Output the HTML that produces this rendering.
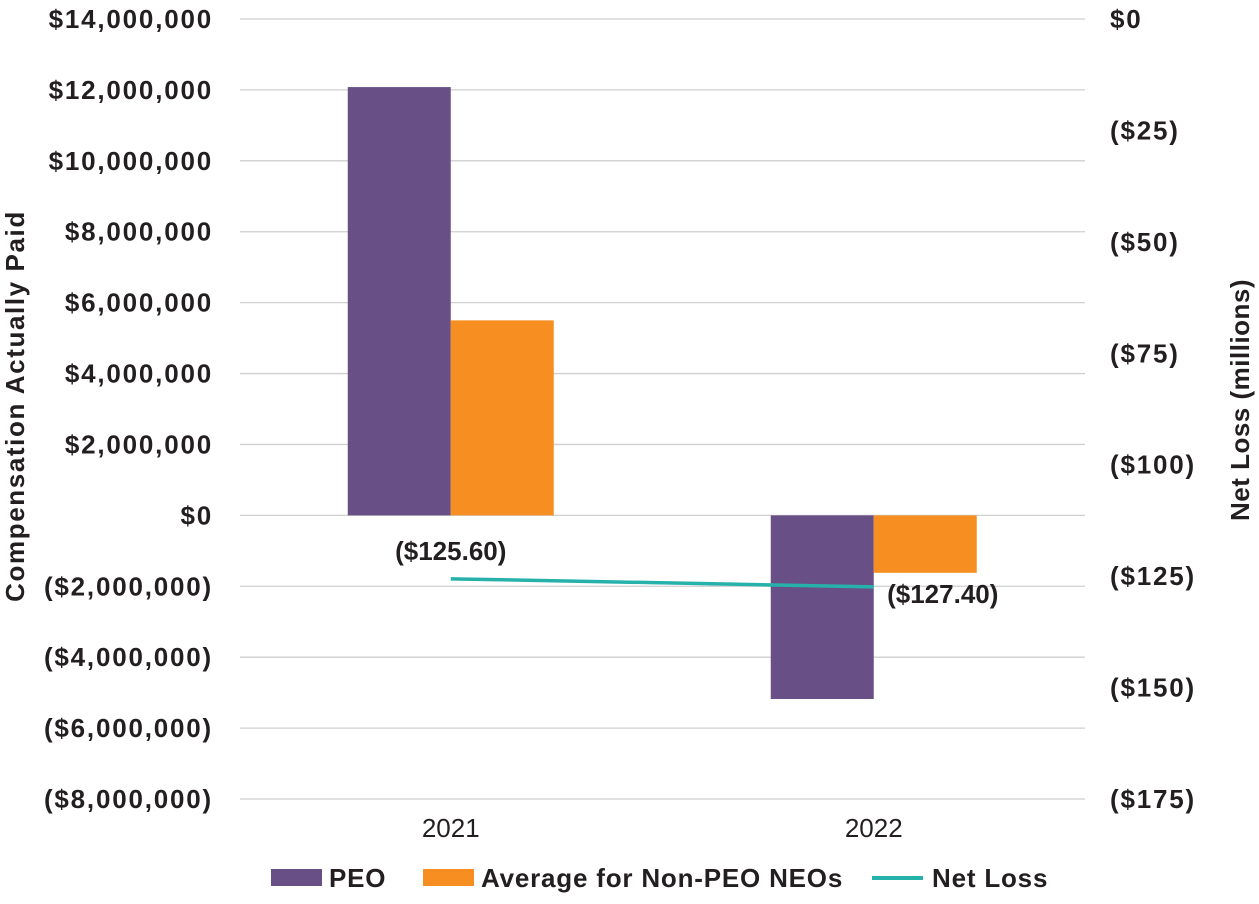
<!DOCTYPE html>
<html><head><meta charset="utf-8"><style>
body{margin:0;background:#fff;}
svg text{font-family:"Liberation Sans",Arial,sans-serif;fill:#231f20;}
</style></head><body>
<svg id="chart" width="1259" height="899" viewBox="0 0 1259 899" xmlns="http://www.w3.org/2000/svg">
<g id="grid"></g>
<g id="bars"></g>
<g id="line"></g>
<g id="axes"></g>
<text transform="translate(24,406) rotate(-90)" text-anchor="middle" font-size="26" font-weight="bold" letter-spacing="1.6">Compensation Actually Paid</text>
<text transform="translate(1249,400) rotate(-90)" text-anchor="middle" font-size="26" font-weight="bold" letter-spacing="0.5">Net Loss (millions)</text>
<g>
<rect x="271" y="869" width="51" height="17" fill="#684f86"/>
<text x="329" y="887" font-size="26" font-weight="bold" letter-spacing="0.8">PEO</text>
<rect x="423" y="869" width="51" height="17" fill="#f68e22"/>
<text x="481" y="887" font-size="26" font-weight="bold" letter-spacing="0.8">Average for Non-PEO NEOs</text>
<line x1="872" y1="878" x2="923" y2="878" stroke="#26b2ab" stroke-width="4"/>
<text x="932" y="887" font-size="26" font-weight="bold" letter-spacing="0.8">Net Loss</text>
</g>
</svg>
<script>
const categories=["2021","2022"];
const peoValues=[12080000,-5180000];
const neoValues=[5500000,-1620000];
const netLoss=[-125.6,-127.4];
const netLossLabels=["($125.60)","($127.40)"];
const leftTicks=[14000000,12000000,10000000,8000000,6000000,4000000,2000000,0,-2000000,-4000000,-6000000,-8000000];
const leftTickLabels=["$14,000,000","$12,000,000","$10,000,000","$8,000,000","$6,000,000","$4,000,000","$2,000,000","$0","($2,000,000)","($4,000,000)","($6,000,000)","($8,000,000)"];
const rightTicks=[0,-25,-50,-75,-100,-125,-150,-175];
const rightTickLabels=["$0","($25)","($50)","($75)","($100)","($125)","($150)","($175)"];

const NS="http://www.w3.org/2000/svg";
const plotTop=19,plotBot=799,plotL=240,plotR=1085;
const yL=v=>plotTop+(14000000-v)/22000000*(plotBot-plotTop);
const yR=v=>plotTop+(0-v)/175*(plotBot-plotTop);
const band=(plotR-plotL)/categories.length;
const xC=i=>plotL+band*(i+0.5)+(i===0?-0.5:0);
function mk(tag,attrs,parent){const e=document.createElementNS(NS,tag);for(const k in attrs)e.setAttribute(k,attrs[k]);document.getElementById(parent).appendChild(e);return e;}

leftTicks.forEach((t,i)=>{
 const g=mk('line',{x1:plotL,x2:plotR,y1:yL(t),y2:yL(t),stroke:'#cfcfcf','stroke-width':1.3},'grid');
 
 
 const tx=mk('text',{x:213,y:yL(t)+9,'text-anchor':'end','font-size':26,'font-weight':'bold','letter-spacing':1.8},'axes');
 tx.textContent=leftTickLabels[i];
 
 
});
rightTicks.forEach((t,i)=>{
 const tx=mk('text',{x:1110,y:yR(t)+9,'font-size':26,'font-weight':'bold','letter-spacing':1.8},'axes');
 tx.textContent=rightTickLabels[i];
 
 
});
const bw=103;
categories.forEach((c,i)=>{
 const cx=xC(i);
 const p=peoValues[i],n=neoValues[i];
 const r1=mk('rect',{x:cx-bw,width:bw,y:Math.min(yL(p),yL(0)),height:Math.abs(yL(p)-yL(0)),fill:'#684f86'},'bars');
 
 
 const r2=mk('rect',{x:cx,width:bw,y:Math.min(yL(n),yL(0)),height:Math.abs(yL(n)-yL(0)),fill:'#f68e22'},'bars');
 
 
 const tx=mk('text',{x:cx,y:837,'text-anchor':'middle','font-size':26},'axes');
 tx.textContent=c;
 
 
});
const pts=netLoss.map((v,i)=>xC(i)+','+yR(v)).join(' ');
const pl1=mk('polyline',{points:pts,fill:'none',stroke:'#26b2ab','stroke-width':3.5},'line');


netLoss.forEach((v,i)=>{
 const tx=mk('text',{x:i===0?xC(i):xC(i)+69,y:i===0?yR(v)-19:yR(v)+16,'text-anchor':'middle','font-size':26,'font-weight':'bold'},'line');
 tx.textContent=netLossLabels[i];
 
 
});
</script>
</body></html>
